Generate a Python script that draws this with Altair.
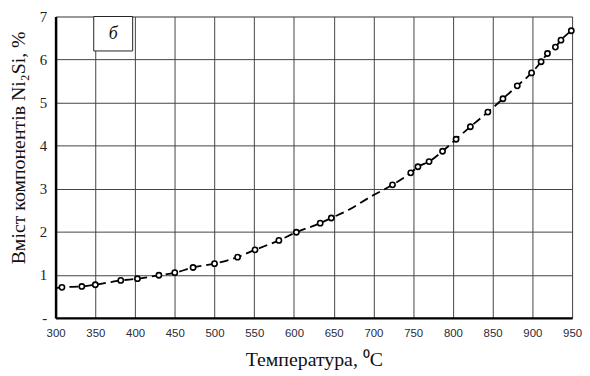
import altair as alt
import pandas as pd

# Marker points (temperature, content %)
temp_pts = [308, 333, 350, 382, 403, 430, 450, 473, 500, 529, 551, 581, 603, 633, 647,
            724, 747, 756, 770, 787, 804, 822, 844, 863, 881, 899, 911, 919, 929, 936, 949]
val_pts = [0.71, 0.73, 0.77, 0.87, 0.91, 0.99, 1.05, 1.17, 1.26, 1.41, 1.58, 1.80, 1.99, 2.20, 2.32,
           3.09, 3.37, 3.51, 3.63, 3.87, 4.15, 4.44, 4.78, 5.09, 5.39, 5.69, 5.95, 6.14, 6.29, 6.45, 6.67]

# Extra points on the dashed curve without markers
temp_extra = [300, 669, 696]
val_extra = [0.69, 2.51, 2.81]

# Annotation box "б"
box_x = [348]
box_x2 = [397]
box_y = [6.2]
box_y2 = [7.0]
box_text = ["б"]

x_ticks = list(range(300, 951, 50))
y_ticks = list(range(0, 8))

pts = pd.DataFrame({"T": temp_pts, "v": val_pts})
line_df = pd.DataFrame({"T": temp_pts + temp_extra, "v": val_pts + val_extra}).sort_values("T")
box_df = pd.DataFrame({"x": box_x, "x2": box_x2, "y": box_y, "y2": box_y2, "t": box_text})

serif = "Liberation Serif"
sans = "Liberation Sans"

xscale = alt.Scale(domain=[300, 950], nice=False, zero=False)
yscale = alt.Scale(domain=[0, 7], nice=False)

xaxis = alt.Axis(values=x_ticks, title="Температура, ⁰C", labelFontSize=11.5, labelFont=sans,
                 labelColor="#2a2a3a", labelPadding=10, titlePadding=11, labelOverlap=False)
yaxis = alt.Axis(values=y_ticks, title="Вміст компонентів Ni₂Si, %", labelFontSize=15,
                 labelFont=serif, labelPadding=9, titlePadding=11, labelOverlap=False,
                 titleY=132, labelExpr="datum.value == 0 ? '-' : datum.label")

line = alt.Chart(line_df).mark_line(color="black", strokeWidth=1.8, strokeDash=[9, 5],
                                    interpolate="monotone").encode(
    x=alt.X("T:Q", scale=xscale, axis=xaxis),
    y=alt.Y("v:Q", scale=yscale, axis=yaxis),
)

points = alt.Chart(pts).mark_point(shape="circle", filled=True, fill="white", stroke="black",
                                   strokeWidth=1.6, size=28, opacity=1).encode(
    x=alt.X("T:Q", scale=xscale, axis=xaxis),
    y=alt.Y("v:Q", scale=yscale, axis=yaxis),
)

box = alt.Chart(box_df).mark_rect(fill="white", stroke="#222", strokeWidth=1).encode(
    x=alt.X("x:Q", scale=xscale, axis=xaxis), x2="x2:Q",
    y=alt.Y("y:Q", scale=yscale, axis=yaxis), y2="y2:Q")

box_label = alt.Chart(box_df).mark_text(font=serif, fontSize=18, fontStyle="italic",
                                        color="#111").encode(
    x=alt.X("xm:Q", scale=xscale, axis=xaxis),
    y=alt.Y("ym:Q", scale=yscale, axis=yaxis), text="t:N"
).transform_calculate(xm="(datum.x + datum.x2) / 2", ym="(datum.y + datum.y2) / 2")

chart = alt.layer(line, points, box, box_label).properties(
    width=579, height=364, padding=0,
    autosize=alt.AutoSizeParams(type="fit", contains="padding"),
).configure_view(stroke="black", strokeWidth=2.5).configure(background="white").configure_axis(
    grid=True, ticks=False, labelColor="#222", titleFont=serif,
    titleFontSize=20, titleFontWeight="normal", titleColor="#111", gridColor="#444",
    gridWidth=1, domainColor="#000", domainWidth=2.5, labelFlush=False
)

chart.save("out.html", embed_options={"renderer": "svg", "actions": False})
